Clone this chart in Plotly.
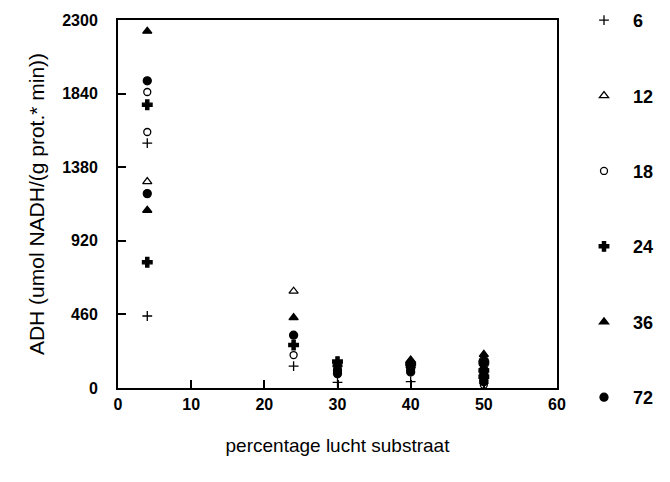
import plotly.graph_objects as go

# percentage lucht substraat (x) and ADH values (y) per series (legend label)
series_names = ["6", "12", "18", "24", "36", "72"]

x_6 = [4, 4, 24, 30, 30, 40, 40, 50, 50, 50]
y_6 = [1530, 450, 137, 35, 150, 40, 130, 30, 80, 140]

x_12 = [4, 24, 30, 40, 50, 50]
y_12 = [1290, 605, 150, 170, 190, 120]

x_18 = [4, 4, 24, 30, 40, 50, 50, 50]
y_18 = [1850, 1600, 206, 120, 110, 20, 60, 100]

x_24 = [4, 4, 24, 30, 40, 50, 50, 50]
y_24 = [1770, 786, 268, 165, 150, 160, 70, 110]

x_36 = [4, 4, 24, 30, 40, 40, 50, 50, 50]
y_36 = [2230, 1111, 440, 145, 175, 140, 210, 180, 130]

x_72 = [4, 4, 24, 30, 30, 40, 40, 50, 50, 50, 50]
y_72 = [1920, 1215, 330, 90, 110, 100, 120, 40, 90, 150, 50]

x_ticks = [0, 10, 20, 30, 40, 50, 60]
y_ticks = [0, 460, 920, 1380, 1840, 2300]

xs = [x_6, x_12, x_18, x_24, x_36, x_72]
ys = [y_6, y_12, y_18, y_24, y_36, y_72]
symbols = ["cross-thin-open", "triangle-up-open", "circle-open", "cross", "triangle-up", "circle"]
sizes = [7, 8, 7, 8, 8, 8]

fig = go.Figure()
for i, name in enumerate(series_names):
    fig.add_trace(go.Scatter(
        x=xs[i], y=ys[i], mode="markers", name=name,
        legendgroup=name,
        marker=dict(symbol=symbols[i], size=sizes[i], color="black",
                    line=dict(color="black", width=1.3)),
    ))

fig.update_layout(
    width=670, height=482,
    margin=dict(l=110, r=121, t=12, b=102, autoexpand=False),
    paper_bgcolor="white", plot_bgcolor="white",
    font=dict(family="Liberation Sans, Arial, sans-serif", color="black"),
    showlegend=True,
    legend=dict(
        x=1.041, y=1.049, xanchor="left", yanchor="top",
        tracegroupgap=49, itemwidth=48,
        font=dict(size=18, weight="bold"),
        bgcolor="rgba(0,0,0,0)",
    ),
)
try:
    fig.update_layout(legend_maxheight=480)
except ValueError:
    pass

fig.update_xaxes(
    range=[0, 60], tickvals=x_ticks, automargin=False,
    showgrid=False, zeroline=False,
    showline=True, linecolor="black", linewidth=2, mirror=True,
    ticks="inside", ticklen=8, tickcolor="black", tickwidth=1.5,
    tickfont=dict(size=16, weight="bold"),
    ticklabelstandoff=1,
    title=dict(text="percentage lucht substraat", font=dict(size=19), standoff=26),
)
fig.update_yaxes(
    range=[0, 2300], tickvals=y_ticks, automargin=False,
    showgrid=False, zeroline=False,
    showline=True, linecolor="black", linewidth=2, mirror=True,
    ticks="inside", ticklen=8, tickcolor="black", tickwidth=1.5,
    tickfont=dict(size=16, weight="bold"),
    ticklabelstandoff=15,
    title=dict(text="ADH (umol NADH/(g prot.* min))", font=dict(size=21), standoff=12),
)

fig.write_html("out.html")
